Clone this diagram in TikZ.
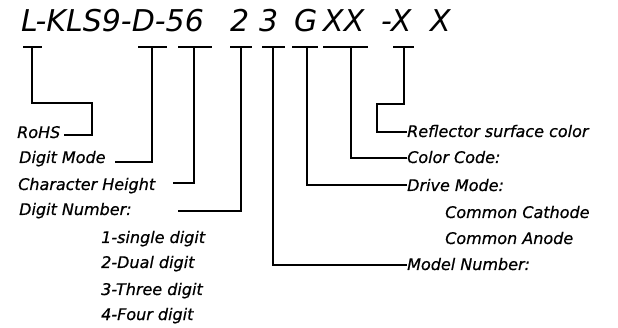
\documentclass[tikz,border=0pt]{standalone}
\usepackage{fontspec}
\newfontfamily\isofont{DejaVu Sans}[ItalicFont={DejaVu Sans Oblique}]
\newfontfamily\labfont{DejaVu Sans}[ItalicFont={DejaVu Sans Oblique}, ItalicFeatures={FakeBold=0.6}]
\usetikzlibrary{calc}
\begin{document}
\begin{tikzpicture}[x=1pt,y=-1pt,
  conn/.style={line width=1.4pt, line join=miter},
  big/.style={font=\isofont\itshape\fontsize{30}{31}\selectfont, inner sep=0pt, anchor=base west},
  lab/.style={font=\labfont\itshape\fontsize{16}{17}\selectfont, inner sep=0pt, anchor=base west}]
\fill[white] (0,0) rectangle (618,328);
\useasboundingbox (0,0) rectangle (618,328);
% part number
\node[big] (pn)  at (21,32)  {L-KLS9-D-56};
\node[big] (p2)  at (230,32) {2};
\node[big] (p3)  at (259,32) {3};
\node[big] (pg)  at (294,32) {G};
\node[big] (pxx) at (323,32) {XX};
\node[big] (px)  at (381,32) {-X};
\node[big] (py)  at (430,32) {X};
% labels
\node[lab] (rohs) at (17,138)  {RoHS};
\node[lab] (dm)   at (19,163)  {Digit Mode};
\node[lab] (ch)   at (18,190)  {Character Height};
\node[lab] (dn)   at (19,215)  {Digit Number:};
\node[lab] (d1)   at (101,243) {1-single digit};
\node[lab] (d2)   at (101,268) {2-Dual digit};
\node[lab] (d3)   at (101,295) {3-Three digit};
\node[lab] (d4)   at (101,320) {4-Four digit};
\node[lab] (rf)   at (407,137) {Reflector surface color};
\node[lab] (cc)   at (407,163) {Color Code:};
\node[lab] (dr)   at (407,191) {Drive Mode:};
\node[lab] (cca)  at (445,218) {Common Cathode};
\node[lab] (can)  at (445,244) {Common Anode};
\node[lab] (mn)   at (407,270) {Model Number:};
% T-bar stems
\coordinate (t1) at (32,47);
\coordinate (t2) at (152,47);
\coordinate (t3) at (194,47);
\coordinate (t4) at (241,47);
\coordinate (t5) at (273,47);
\coordinate (t6) at (307,47);
\coordinate (t7) at (351,47);
\coordinate (t8) at (404,47);
% left connector ends
\coordinate (e1) at (64,135);
\coordinate (e2) at (115,162);
\coordinate (e3) at (173,183);
\coordinate (e4) at (178,211);
% bars
\draw[conn] (23,47) -- (42,47);
\draw[conn] (138,47) -- (167,47);
\draw[conn] (178,47) -- (212,47);
\draw[conn] (230,47) -- (252,47);
\draw[conn] (262,47) -- (285,47);
\draw[conn] (292,47) -- (318,47);
\draw[conn] (323,47) -- (368,47);
\draw[conn] (393,47) -- (414,47);
% connectors
\draw[conn] (t1) |- (92,103) |- (e1);
\draw[conn] (t2) |- (e2);
\draw[conn] (t3) |- (e3);
\draw[conn] (t4) |- (e4);
\draw[conn] (t5) |- ([yshift=5pt]mn.base west);
\draw[conn] (t6) |- ([yshift=6pt]dr.base west);
\draw[conn] (t7) |- ([yshift=5pt]cc.base west);
\draw[conn] (t8) |- (377,104) |- ([yshift=5pt]rf.base west);
\end{tikzpicture}
\end{document}
